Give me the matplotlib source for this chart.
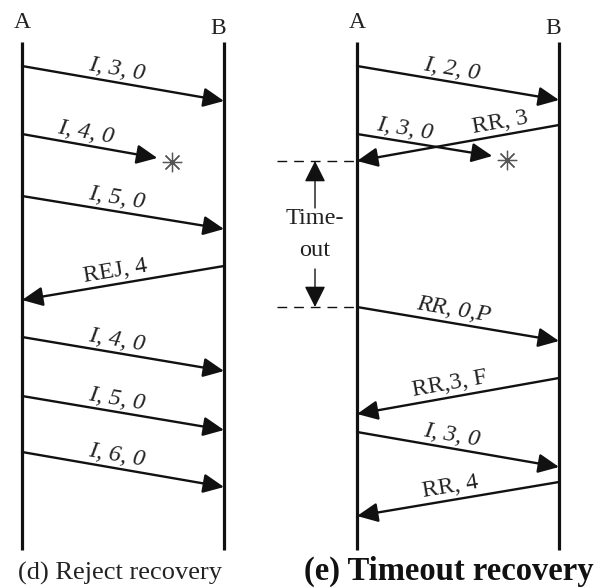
"""Two sequence diagrams: reject recovery and timeout recovery (HDLC)."""
import numpy as np
import matplotlib
matplotlib.use('Agg')
import matplotlib.pyplot as plt
from matplotlib.patches import FancyArrowPatch

plt.rcParams['font.family'] = ['Liberation Serif', 'DejaVu Serif']

# station positions (px) for each panel and time axis limits
left_a, left_b = 22, 224
right_a, right_b = 357, 559
t_top, t_bottom = 42, 550

# (d) reject recovery: send time, arrival time, direction, label
d_labels = ["I, 3, 0", "I, 4, 0", "I, 5, 0", "REJ, 4", "I, 4, 0", "I, 5, 0", "I, 6, 0"]
d_send = [66, 134, 196, 266, 337, 396, 452]
d_recv = [101, 158, 229, 300, 371, 430, 487]
d_dir = ["AB", "lost", "AB", "BA", "AB", "AB", "AB"]
d_italic = [True, True, True, False, True, True, True]
d_label_at = [0.47, 0.47, 0.47, 0.46, 0.47, 0.47, 0.47]

# (e) timeout recovery
e_labels = ["I, 2, 0", "RR, 3", "I, 3, 0", "RR, 0,P", "RR,3, F", "I, 3, 0", "RR, 4"]
e_send = [66, 125, 134, 307, 378, 432, 482]
e_recv = [100, 161, 156, 341, 414, 467, 516]
e_dir = ["AB", "BA", "lost", "AB", "BA", "AB", "BA"]
e_italic = [True, False, True, True, False, True, False]
e_label_at = [0.47, 0.71, 0.35, 0.48, 0.46, 0.47, 0.46]

lost_frac = 0.67  # how far a lost frame gets before it is destroyed

fig = plt.figure(figsize=(6.02, 5.88), dpi=100)
ax = fig.add_axes([0, 0, 1, 1])
ax.set_xlim(0, 602)
ax.set_ylim(588, 0)
ax.axis('off')

ink = '#111111'
txt = '#222222'


def draw_panel(xa, xb, labels, send, recv, dirs, italic, label_at):
    for x, name, dy in [(xa, 'A', 22), (xb, 'B', 28)]:
        ax.plot([x, x], [t_top, t_bottom], color=ink, lw=2.3, solid_capstyle='butt')
        ax.text(x - (6 if name == 'B' else 0), dy, name, ha='center', va='center',
                fontsize=17, color=txt)
    for lab, t0, t1, d, it, f in zip(labels, send, recv, dirs, italic, label_at):
        if d == "AB":
            p0, p1 = (xa, t0), (xb, t1)
        elif d == "BA":
            p0, p1 = (xb, t0), (xa, t1)
        else:
            p0 = (xa, t0)
            p1 = (xa + lost_frac * (xb - xa), t1)
        arr = FancyArrowPatch(p0, p1, arrowstyle='-|>,head_length=0.9,head_width=0.42',
                              mutation_scale=14, color=ink, lw=1.7,
                              shrinkA=0, shrinkB=0)
        ax.add_patch(arr)
        # label along the arrow, slightly above it
        (xl, yl), (xr, yr) = sorted([p0, p1])
        ang = -np.degrees(np.arctan2(yr - yl, xr - xl))
        xm = xa + f * (xb - xa) if d != "lost" else xa + f * (xr - xl)
        ym = yl + (xm - xl) / (xr - xl) * (yr - yl) - 13
        ax.text(xm, ym, lab, ha='center', va='center', rotation=ang,
                rotation_mode='anchor', fontsize=17.5, color=txt,
                style='italic' if it else 'normal')
        if d == "lost":
            ax.plot(p1[0] + 15, p1[1] + 4, marker=(8, 2, 0), ms=14, mew=0.9,
                    color='#555555')


draw_panel(left_a, left_b, d_labels, d_send, d_recv, d_dir, d_italic, d_label_at)
draw_panel(right_a, right_b, e_labels, e_send, e_recv, e_dir, e_italic, e_label_at)

# timeout interval: from RR,3 arrival until RR,0,P is sent
to_start = e_recv[1]
to_end = e_send[3]
to_x = 315
for y in (to_start, to_end):
    ax.plot([277, right_a], [y, y], color=ink, lw=1.0, dashes=(7, 5))
for y_from, y_to in [(to_start + 47, to_start), (to_end - 38, to_end)]:
    ax.add_patch(FancyArrowPatch((to_x, y_from), (to_x, y_to),
                                 arrowstyle='-|>,head_length=1.0,head_width=0.5',
                                 mutation_scale=13, color=ink, lw=1.0,
                                 shrinkA=0, shrinkB=0))
ax.text(to_x, 219, "Time-", ha='center', va='center', fontsize=17.5, color=txt)
ax.text(to_x, 251, "out", ha='center', va='center', fontsize=17.5, color=txt)

ax.text(120, 573, "(d) Reject recovery", ha='center', va='center',
        fontsize=19, color=txt)
ax.text(449, 571, "(e) Timeout recovery", ha='center', va='center',
        fontsize=23.5, fontweight='bold', color=ink)

fig.savefig('out.png', dpi=100)
